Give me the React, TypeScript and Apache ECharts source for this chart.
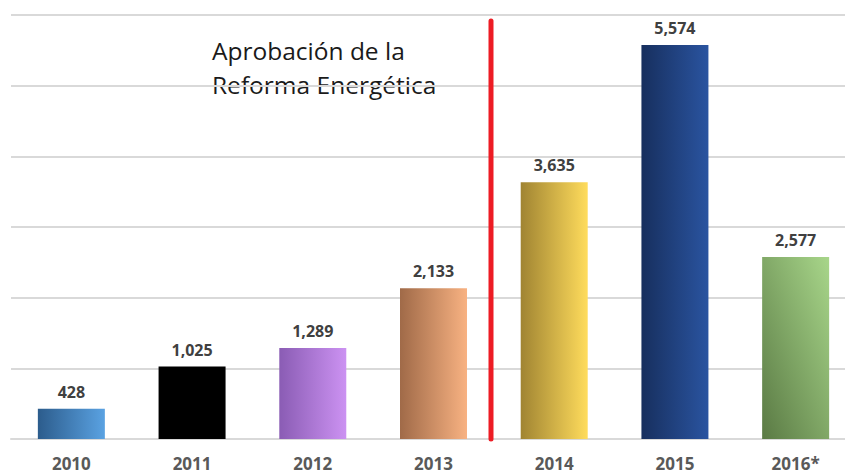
import React, { useEffect, useRef } from "react";
import * as echarts from "echarts";

const categories = ["2010", "2011", "2012", "2013", "2014", "2015", "2016*"];
const values = [428, 1025, 1289, 2133, 3635, 5574, 2577];
const gradients: [string, string, boolean][] = [
  ["#2c5c8c", "#5aa2e2", false],
  ["#000000", "#000000", false],
  ["#8a5cb4", "#cc92f2", false],
  ["#a06a48", "#f8b282", false],
  ["#a08432", "#ffdc5c", false],
  ["#172f5e", "#2a54a0", false],
  ["#5a7a44", "#a8d68a", true],
];

export default function App() {
  const ref = useRef<HTMLDivElement>(null);
  useEffect(() => {
    const chart = echarts.init(ref.current!, null, { renderer: "svg" });
    const data = values.map((v, i) => {
      const [a, b, diag] = gradients[i];
      return {
        value: v,
        itemStyle: {
          color: new echarts.graphic.LinearGradient(0, diag ? 1 : 0, 1, 0, [
            { offset: 0, color: a },
            { offset: 1, color: b },
          ]),
        },
      };
    });
    chart.setOption({
      animation: false,
      grid: { left: 11, right: 0, top: 15, bottom: 35, containLabel: false, outerBoundsMode: "none" },
      xAxis: {
        type: "category",
        data: categories,
        axisLine: { lineStyle: { color: "#d9d9d9", width: 2 } },
        axisTick: { show: false },
        axisLabel: {
          color: "#595959",
          fontWeight: "bold",
          fontSize: 17,
          fontFamily: "Open Sans",
          margin: 16,
        },
      },
      yAxis: {
        type: "value",
        min: 0,
        max: 6000,
        interval: 1000,
        axisLabel: { show: false },
        axisLine: { show: false },
        axisTick: { show: false },
        splitLine: { lineStyle: { color: "#d9d9d9", width: 2 } },
      },
      series: [
        {
          type: "bar",
          data,
          barWidth: "55.5%",
          label: {
            show: true,
            position: "top",
            distance: 9,
            color: "#404040",
            fontWeight: "bold",
            fontSize: 16,
            fontFamily: "Open Sans",
            formatter: (p: any) => p.value.toLocaleString("en-US"),
          },
        },
      ],
      graphic: [
        {
          type: "line",
          shape: { x1: 491, y1: 21, x2: 491, y2: 439 },
          style: { stroke: "#ed1c24", lineWidth: 5, lineCap: "round" },
          z: 100,
        },
        {
          type: "text",
          left: 212,
          top: 33,
          style: {
            text: "Aprobación de la\nReforma Energética",
            font: "24.5px 'Open Sans'",
            fill: "#1a1a1a",
            lineHeight: 34,
          },
        },
      ],
    });
    return () => chart.dispose();
  }, []);
  return (
    <div style={{ position: "fixed", left: 0, top: 0, width: 845, height: 474, overflow: "hidden", background: "#fff" }}>
      <div ref={ref} style={{ width: 856, height: 474 }} />
    </div>
  );
}
